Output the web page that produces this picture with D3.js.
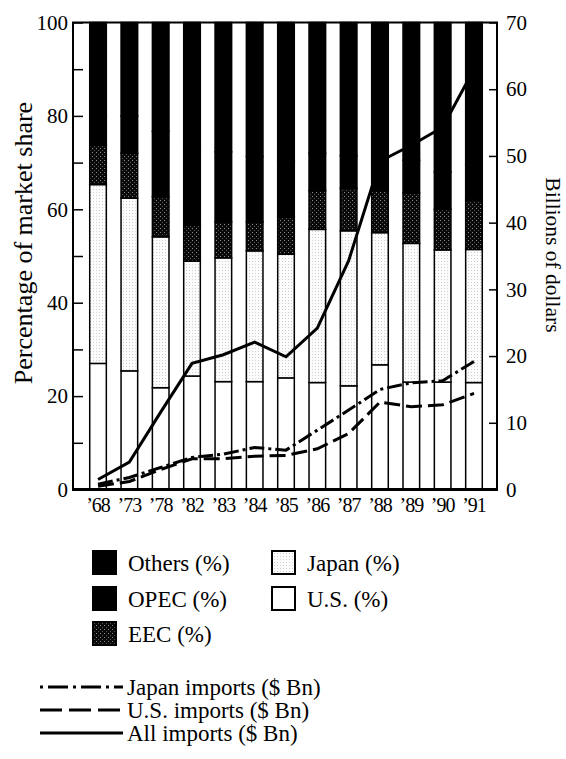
<!DOCTYPE html>
<html>
<head>
<meta charset="utf-8">
<script src="https://cdn.jsdelivr.net/npm/d3@7"></script>
<style>
body{margin:0;background:#fff;}
svg{display:block;font-family:"Liberation Serif","DejaVu Serif",serif;}
</style>
</head>
<body>
<svg class="chart"></svg>
<script>
/* categorias (anios) */
var anios = ["’68","’73","’78","’82","’83","’84","’85","’86","’87","’88","’89","’90","’91"];

/* participacion de mercado (%) por origen, de abajo hacia arriba */
var usPct     = [27.0, 25.4, 21.8, 24.3, 23.1, 23.1, 23.9, 22.9, 22.2, 26.7, 23.0, 23.0, 22.9];
var japanPct  = [38.3, 37.0, 32.3, 24.6, 26.5, 28.0, 26.5, 32.8, 33.2, 28.3, 29.7, 28.3, 28.5];
var eecPct    = [ 8.5,  9.6,  8.6,  7.7,  7.7,  6.2,  8.0,  8.3,  9.1,  9.0, 10.8,  8.7, 10.6];
var opecPct   = [ 6.0,  8.0, 14.0, 17.0, 15.0, 14.0, 12.0,  8.0,  7.0,  6.5,  7.0,  8.0,  7.5];
var othersPct = [20.2, 20.0, 23.3, 26.4, 27.7, 28.7, 29.6, 28.0, 28.5, 29.5, 29.5, 32.0, 30.5];

/* importaciones en miles de millones de dolares */
var japanImports = [0.8, 1.8, 3.3, 4.8, 5.3, 6.3, 5.9, 8.9, 11.9, 15.0, 16.0, 16.3, 19.2];
var usImports    = [0.5, 1.2, 3.0, 4.6, 4.6, 5.0, 5.1, 6.1,  8.4, 13.1, 12.4, 12.7, 14.4];
var allImports   = [1.5, 4.1, 11.6, 18.9, 20.2, 22.1, 19.9, 24.2, 34.3, 49.2, 51.6, 54.3, 63.0];

var leftTicks = [0,10,20,30,40,50,60,70,80,90,100];
var rightTicks = [0,10,20,30,40,50,60,70];

var colores = {us:"#ffffff", japan:"url(#puntosClaros)", eec:"url(#puntosOscuros)", opec:"#000000", others:"#000000"};
var claves = ["us","japan","eec","opec","others"];

var tabla = anios.map((a,i)=>{
  return {anio:a, us:usPct[i], japan:japanPct[i], eec:eecPct[i], opec:opecPct[i], others:othersPct[i]};
});

var canvas = d3.select(".chart")
  .attr("width",566)
  .attr("height",759)
  .attr("viewBox","0 0 566 759");

/* tramas punteadas para Japan y EEC */
var defs = canvas.append("defs");
var p1 = defs.append("pattern").attr("id","puntosClaros")
  .attr("width",3).attr("height",3).attr("patternUnits","userSpaceOnUse");
p1.append("rect").attr("width",3).attr("height",3).attr("fill","#fcfcfc");
p1.append("rect").attr("width",1).attr("height",1).attr("fill","#cfcfcf");
var p2 = defs.append("pattern").attr("id","puntosOscuros")
  .attr("width",4).attr("height",4).attr("patternUnits","userSpaceOnUse");
p2.append("rect").attr("width",4).attr("height",4).attr("fill","#0a0a0a");
p2.append("rect").attr("width",1).attr("height",1).attr("fill","#8a8a8a");
p2.append("rect").attr("x",2).attr("y",2).attr("width",1).attr("height",1).attr("fill","#555");

/* escalas */
var x = d3.scaleBand().domain(anios).range([75,497]).paddingInner(0.47).paddingOuter(0.47);
var y = d3.scaleLinear().domain([0,100]).range([489.5,22.5]);
var y2 = d3.scaleLinear().domain([0,70]).range([489.5,22.5]);

/* barras apiladas */
var series = d3.stack().keys(claves)(tabla);
canvas.append("g").selectAll("g")
  .data(series)
  .enter().append("g")
    .attr("fill",d=>{return colores[d.key]})
  .selectAll("rect")
  .data(d=>{return d})
  .enter().append("rect")
    .attr("x",d=>{return x(d.data.anio)})
    .attr("width",x.bandwidth())
    .attr("y",d=>{return y(d[1])})
    .attr("height",d=>{return y(d[0])-y(d[1])})
    .attr("stroke","#000")
    .attr("stroke-width",1.5);

/* lineas de importaciones */
var lineas = [
  {vals:allImports, dash:null},
  {vals:usImports, dash:"16,6"},
  {vals:japanImports, dash:"15,4,3,4"}
];
var linea = d3.line()
  .x((d,i)=>{return x(anios[i])+x.bandwidth()/2})
  .y(d=>{return y2(d)});
canvas.append("g").selectAll("path")
  .data(lineas)
  .enter().append("path")
    .attr("d",d=>{return linea(d.vals)})
    .attr("fill","none")
    .attr("stroke","#000")
    .attr("stroke-width",3)
    .attr("stroke-dasharray",d=>{return d.dash});

/* marco */
canvas.append("rect")
  .attr("x",73).attr("y",22.5)
  .attr("width",424).attr("height",467)
  .attr("fill","none").attr("stroke","#000").attr("stroke-width",2);
canvas.append("line")
  .attr("x1",72).attr("x2",498).attr("y1",489.5).attr("y2",489.5)
  .attr("stroke","#000").attr("stroke-width",3);

/* ejes */
var yAx = d3.axisLeft(y).tickValues(leftTicks).tickSizeInner(-10).tickSizeOuter(0).tickPadding(5)
  .tickFormat(d=>{return d%20===0?d:""});
var gy = canvas.append("g").attr("transform","translate(73,0)").call(yAx);
gy.select(".domain").remove();
gy.selectAll("text").attr("font-size",21).attr("font-family","Liberation Serif");
gy.selectAll("line").attr("stroke-width",1.5);

var y2Ax = d3.axisRight(y2).tickValues(rightTicks).tickSizeInner(-8).tickSizeOuter(0).tickPadding(9);
var gy2 = canvas.append("g").attr("transform","translate(497,0)").call(y2Ax);
gy2.select(".domain").remove();
gy2.selectAll("text").attr("font-size",21).attr("font-family","Liberation Serif");
gy2.selectAll("line").attr("stroke-width",1.5);

var xAx = d3.axisBottom(x).tickSize(0).tickPadding(8);
var gx = canvas.append("g").attr("transform","translate(0,489.5)").call(xAx);
gx.select(".domain").remove();
gx.selectAll("text").attr("font-size",20).attr("font-family","Liberation Serif").attr("letter-spacing",-1);

/* titulos de ejes */
canvas.append("text")
  .attr("transform","translate(32,243) rotate(-90)")
  .attr("text-anchor","middle")
  .attr("font-size",26)
  .text("Percentage of market share");
canvas.append("text")
  .attr("transform","translate(546,255) rotate(90)")
  .attr("text-anchor","middle")
  .attr("font-size",21.5)
  .text("Billions of dollars");

/* leyenda de barras */
var leyendaBarras = [
  {key:"others", label:"Others (%)", x:92, y:550},
  {key:"opec", label:"OPEC (%)", x:92, y:586},
  {key:"eec", label:"EEC (%)", x:92, y:621},
  {key:"japan", label:"Japan (%)", x:271, y:550},
  {key:"us", label:"U.S. (%)", x:271, y:586}
];
var lb = canvas.append("g").selectAll("g")
  .data(leyendaBarras)
  .enter().append("g")
    .attr("transform",d=>{return "translate("+d.x+","+d.y+")"});
lb.append("rect")
  .attr("x",1).attr("y",1)
  .attr("width",23).attr("height",23)
  .attr("fill",d=>{return colores[d.key]})
  .attr("stroke","#000").attr("stroke-width",2);
lb.append("text")
  .attr("x",36).attr("y",21)
  .attr("font-size",23)
  .text(d=>{return d.label});

/* leyenda de lineas */
var leyendaLineas = [
  {label:"Japan imports ($ Bn)", dash:"3,5,20,5", y:687},
  {label:"U.S. imports ($ Bn)", dash:"22,7", y:710},
  {label:"All imports ($ Bn)", dash:null, y:733}
];
var ll = canvas.append("g").selectAll("g")
  .data(leyendaLineas)
  .enter().append("g")
    .attr("transform",d=>{return "translate(0,"+d.y+")"});
ll.append("line")
  .attr("x1",40).attr("x2",123)
  .attr("stroke","#000").attr("stroke-width",3)
  .attr("stroke-dasharray",d=>{return d.dash});
ll.append("text")
  .attr("x",127).attr("y",8)
  .attr("font-size",23)
  .text(d=>{return d.label});
</script>
</body>
</html>
